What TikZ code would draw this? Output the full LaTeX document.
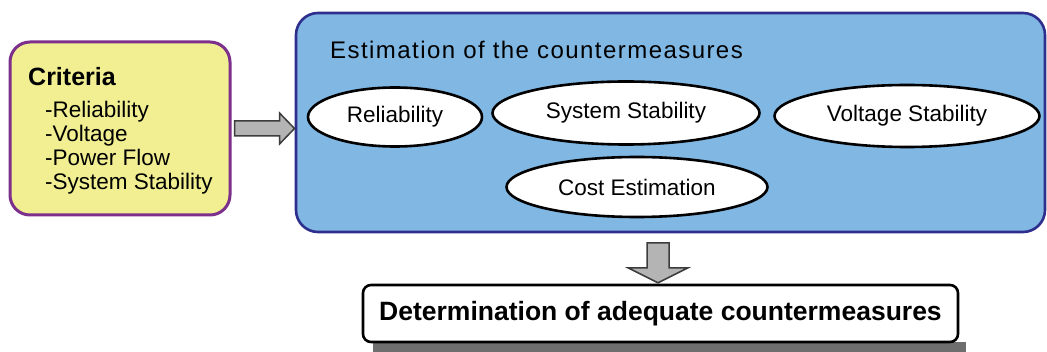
\documentclass[tikz,border=0pt]{standalone}
\usepackage{fontspec}
\setmainfont{Liberation Sans}
\newfontfamily\widefont[LetterSpace=6]{Liberation Sans}
\usetikzlibrary{shapes.geometric,calc}

\definecolor{critfill}{HTML}{F1EF92}
\definecolor{critline}{HTML}{7D2F8C}
\definecolor{estfill}{HTML}{80B7E3}
\definecolor{estline}{HTML}{2E2E8C}
\definecolor{arrowfill}{HTML}{B4B4B4}
\definecolor{arrowline}{HTML}{3C3C3C}
\definecolor{shadowgray}{HTML}{6E6E6E}

\tikzset{
  critbox/.style={draw=critline, fill=critfill, line width=3pt, rounded corners=20pt,
    minimum width=220pt, minimum height=173pt, inner sep=0pt},
  estbox/.style={draw=estline, fill=estfill, line width=2.6pt, rounded corners=22pt,
    minimum width=749pt, minimum height=219pt, inner sep=0pt},
  item/.style={anchor=base west, inner sep=0pt, font=\fontsize{22.5}{24}\selectfont},
  oval/.style={ellipse, draw=black, fill=white, line width=2.6pt, inner sep=0pt,
    font=\fontsize{22.5}{24}\selectfont},
  resultbox/.style={draw=black, fill=white, line width=2.6pt, rounded corners=8pt,
    minimum width=595pt, minimum height=57pt, inner sep=0pt,
    font=\bfseries\fontsize{26.5}{28}\selectfont},
  blockarrow/.style={fill=arrowfill, draw=arrowline, line width=1.5pt, line join=miter}
}

\begin{document}
\begin{tikzpicture}[x=1pt, y=-1pt]
  \useasboundingbox (0,0) rectangle (1047,352);
  \fill[white] (0,0) rectangle (1047,352);

  % criteria box
  \node[critbox] (crit) at (120,128.5) {};
  \node[anchor=base west, inner sep=0pt, font=\bfseries\fontsize{25}{26}\selectfont]
    (crittitle) at (28,86) {Criteria};
  \node[item] (c1) at (45,118) {-Reliability};
  \node[item] (c2) at (45,142) {-Voltage};
  \node[item] (c3) at (45,166) {-Power Flow};
  \node[item] (c4) at (45,190) {-System Stability};

  % estimation box
  \node[estbox] (est) at (670.5,122.5) {};
  \node[anchor=base west, inner sep=0pt, font=\widefont\fontsize{24}{26}\selectfont]
    (esttitle) at (330,58.5) {Estimation of the countermeasures};
  \node[oval, minimum width=174pt, minimum height=59pt] (rel) at (395,117) {Reliability};
  \node[oval, minimum width=267pt, minimum height=63pt] (sys) at (626,113) {System Stability};
  \node[oval, minimum width=265pt, minimum height=62pt] (volt) at (907,116) {Voltage Stability};
  \node[oval, minimum width=261pt, minimum height=60pt] (cost) at (637,187) {Cost Estimation};

  % result box with its shadow strip
  \fill[shadowgray] (373,342) rectangle (966,352);
  \node[resultbox] (result) at (660.5,313.5) {Determination of adequate countermeasures};

  % block arrow from the criteria box to the estimation box
  \draw[blockarrow] ($(crit.east)+(3,-7.5)$) -- ++(45,0) -- ++(0,-8) -- ++(15,15.5)
    -- ++(-15,15.5) -- ++(0,-8) -- ++(-45,0) -- cycle;
  % block arrow from the estimation box down to the result box
  \draw[blockarrow] ($(est.south)+(-23.5,9.5)$) -- ++(22,0) -- ++(0,25) -- ++(19,0)
    -- ++(-30,15) -- ++(-30,-15) -- ++(19,0) -- cycle;
\end{tikzpicture}
\end{document}
